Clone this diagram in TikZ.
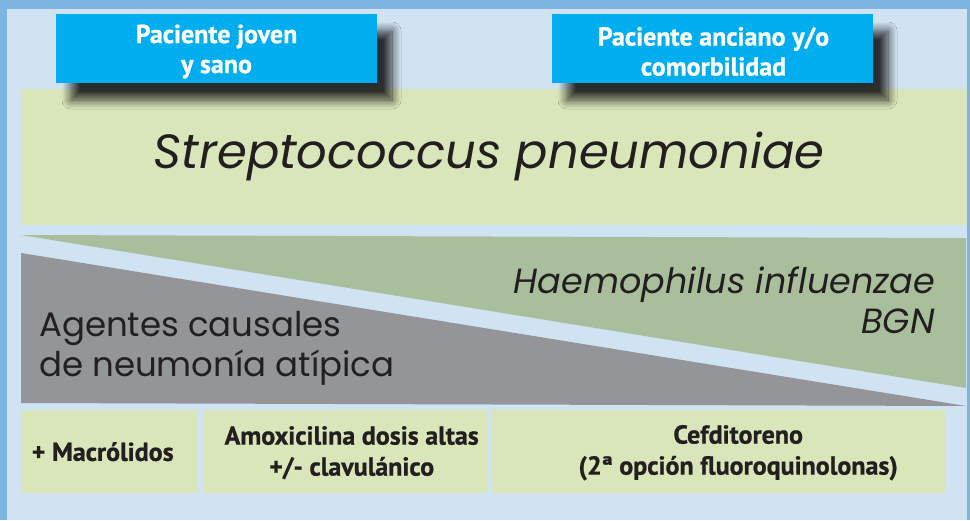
\documentclass[tikz,border=0pt]{standalone}
\usepackage{fontspec}
\setmainfont{Poppins}
\newfontfamily\boxfont{PT Sans}[BoldFeatures={FakeBold=0.8}]
\usepackage{xcolor}
\usepackage{tikz}
\usetikzlibrary{shadows.blur, positioning}
\definecolor{frameblue}{HTML}{7DB4E0}
\definecolor{paleblue}{HTML}{CFE3F2}
\definecolor{headcyan}{HTML}{00AEEF}
\definecolor{palegreen}{HTML}{D9E6B9}
\definecolor{sagegreen}{HTML}{A9BF9C}
\definecolor{wedgegray}{HTML}{939598}
\definecolor{inkdark}{HTML}{231F20}
\tikzstyle{header} = [rectangle, fill=headcyan, inner sep=0pt, minimum width=321pt, minimum height=69pt, blur shadow={shadow xshift=15pt, shadow yshift=-17pt, shadow blur radius=9pt, shadow blur steps=12, shadow opacity=80}]
\tikzstyle{headertext} = [text=white, inner sep=0pt, font=\boxfont\bfseries\fontsize{26}{30}\selectfont]
\tikzstyle{therapy} = [rectangle, fill=palegreen, inner sep=0pt, minimum height=83pt, anchor=north west]
\tikzstyle{therapytext} = [text=inkdark, inner sep=0pt, font=\boxfont\bfseries\fontsize{26}{31}\selectfont]
\tikzstyle{species} = [text=inkdark, inner sep=0pt, font=\itshape\fontsize{35}{40}\selectfont]
\tikzset{every node/.style={align=center}}

\begin{document}
\begin{tikzpicture}[x=1pt, y=-1pt]
    \useasboundingbox (0,0) rectangle (970,520);
    \fill [frameblue] (0,0) rectangle (970,520);
    \fill [paleblue] (7,9) rectangle (967,520);

    \node (strep) [rectangle, fill=palegreen, inner sep=0pt, minimum width=946pt, minimum height=136pt, anchor=north west] at (21,89) {};
    \node (streptext) [species, font=\itshape\fontsize{48}{50}\selectfont] at ([xshift=-5pt,yshift=1pt]strep.center) {Streptococcus pneumoniae};

    \node (young) [header] at (216.5,48.5) {};
    \node (elder) [header] at (712.5,48.5) {};
    \node (youngtext) [headertext] at ([yshift=-3pt]young.center) {Paciente joven\\y sano};
    \node (eldertext) [headertext] at ([xshift=1pt,yshift=-3pt]elder.center) {Paciente anciano y/o\\comorbilidad};

    \fill [sagegreen] (21,235) -- (966,238) -- (966,388) -- cycle;
    \fill [wedgegray] (21,253) -- (966,406) -- (21,403) -- cycle;
    \node (haemo) [species, align=right, anchor=east] at (935,300) {Haemophilus influenzae\\BGN};
    \node (atyp) [species, font=\fontsize{34}{40}\selectfont, align=left, anchor=west] at (39,348) {Agentes causales\\de neumonía atípica};

    \node (macro) [therapy, minimum width=177pt] at (21,410) {};
    \node (amoxi) [therapy, minimum width=283pt] at (204,410) {};
    \node (cefdi) [therapy, minimum width=454pt] at (492,410) {};
    \node (macrotext) [therapytext] at ([xshift=-7pt]macro.center) {+ Macrólidos};
    \node (amoxitext) [therapytext] at ([xshift=6pt,yshift=-1pt]amoxi.center) {Amoxicilina dosis altas\\+/- clavulánico};
    \node (cefditext) [therapytext] at ([xshift=19pt,yshift=-1pt]cefdi.center) {Cefditoreno\\(2ª opción fluoroquinolonas)};
\end{tikzpicture}
\end{document}
